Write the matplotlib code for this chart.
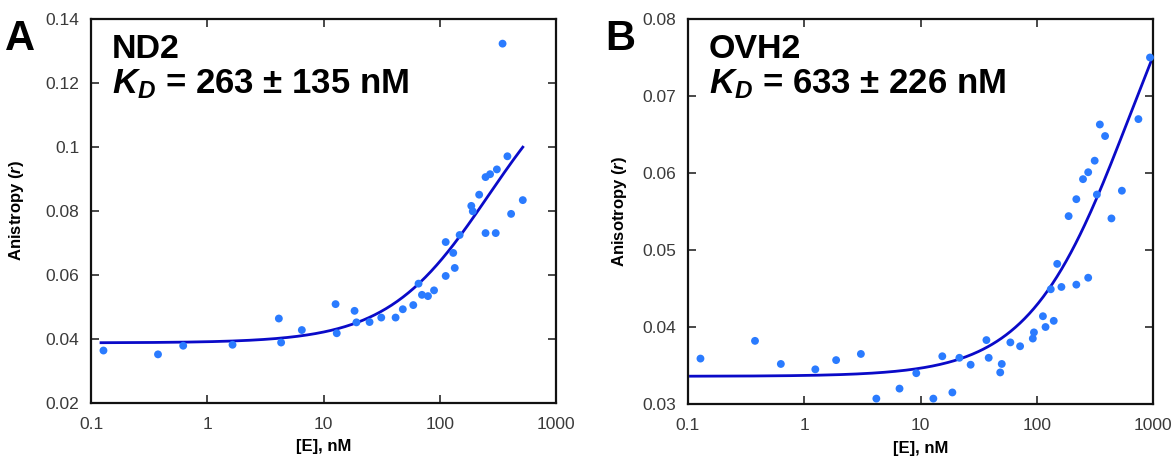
import numpy as np
import matplotlib
matplotlib.use("Agg")
import matplotlib.pyplot as plt

plt.rcParams["font.family"] = ["Liberation Sans", "DejaVu Sans"]
plt.rcParams["mathtext.fontset"] = "custom"
plt.rcParams["mathtext.it"] = "Liberation Sans:italic:bold"
plt.rcParams["mathtext.rm"] = "Liberation Sans:bold"
plt.rcParams["mathtext.bf"] = "Liberation Sans:bold"

# ---- ND2 titration ----
nd2_conc = [0.128, 0.377, 0.621, 1.65, 4.13, 4.32, 6.51, 12.7, 13.0, 18.5,
            19.2, 24.9, 31.4, 41.7, 48.1, 59.2, 65.7, 70.3, 79.2, 89.3,
            112.5, 112.5, 130.6, 134.6, 148.3, 186.8, 192.4, 218.3, 247.7, 271.0,
            247.7, 303.0, 310.0, 347.0, 382.0, 411.0, 518.0]
nd2_aniso = [0.0364, 0.0352, 0.0379, 0.0382, 0.0464, 0.0389, 0.0428, 0.0509, 0.0418, 0.0488,
             0.0452, 0.0453, 0.0467, 0.0467, 0.0493, 0.0506, 0.0573, 0.0538, 0.0534, 0.0552,
             0.0703, 0.0597, 0.0669, 0.0622, 0.0725, 0.0816, 0.0799, 0.0851, 0.0906, 0.0915,
             0.0731, 0.0731, 0.0930, 0.1323, 0.0971, 0.0791, 0.0834]
nd2_kd = 263
nd2_r0 = 0.0388
nd2_rmax = 0.131
nd2_fit_range = (0.122, 518)

# ---- OVH2 titration ----
ovh2_conc = [0.128, 0.377, 0.629, 1.245, 1.88, 3.07, 4.17, 6.6, 9.2, 12.9,
             15.4, 18.8, 21.6, 27.0, 36.9, 38.6, 48.5, 50.0, 59.3, 71.9,
             92.5, 94.6, 113, 119, 132, 140, 150, 163, 188, 219,
             219, 250, 277, 277, 315, 329, 349, 387, 439, 540,
             749, 942]
ovh2_aniso = [0.0359, 0.0382, 0.0352, 0.0345, 0.0357, 0.0365, 0.0307, 0.0320, 0.0340, 0.0307,
              0.0362, 0.0315, 0.0360, 0.0351, 0.0383, 0.0360, 0.0341, 0.0352, 0.0380, 0.0375,
              0.0385, 0.0393, 0.0414, 0.0400, 0.0449, 0.0408, 0.0482, 0.0452, 0.0544, 0.0566,
              0.0455, 0.0592, 0.0601, 0.0464, 0.0616, 0.0572, 0.0663, 0.0648, 0.0541, 0.0577,
              0.0670, 0.0750]
ovh2_kd = 633
ovh2_r0 = 0.0336
ovh2_rmax = 0.1014
ovh2_fit_range = (0.105, 960)

x_ticks = [0.1, 1, 10, 100, 1000]
x_tick_labels = ["0.1", "1", "10", "100", "1000"]

POINT_COLOR = "#2a7bff"
LINE_COLOR = "#0a0ac8"
TICK_COLOR = "#3a3a3a"

fig = plt.figure(figsize=(11.76, 4.62), dpi=100)


def binding_curve(x, r0, rmax, kd):
    return r0 + (rmax - r0) * x / (kd + x)


def draw_panel(rect, conc, aniso, kd, r0, rmax, fit_range, ylim, yticks,
               ylabel, name, kd_err, letter, letter_x, ylabel_x):
    ax = fig.add_axes(rect)
    xs = np.logspace(np.log10(fit_range[0]), np.log10(fit_range[1]), 300)
    ax.plot(xs, binding_curve(xs, r0, rmax, kd), color=LINE_COLOR, lw=2.0, zorder=2)
    ax.scatter(conc, aniso, s=32, color=POINT_COLOR, edgecolors="none", zorder=3,
               clip_on=False)
    ax.set_xscale("log")
    ax.set_xlim(0.1, 1000)
    ax.set_ylim(*ylim)
    ax.set_xticks(x_ticks)
    ax.set_xticklabels(x_tick_labels)
    ax.xaxis.set_minor_locator(matplotlib.ticker.NullLocator())
    ax.set_yticks(yticks)
    ax.set_yticklabels([f"{t:g}" for t in yticks])
    ax.tick_params(axis="both", which="major", direction="in", length=6, width=1.3,
                   color=TICK_COLOR, labelcolor=TICK_COLOR, labelsize=12.5,
                   top=True, right=True)
    ax.tick_params(axis="x", pad=10)
    ax.tick_params(axis="y", pad=8.5)
    for sp in ax.spines.values():
        sp.set_linewidth(1.6)
        sp.set_color("#111111")
    ax.set_xlabel("[E], nM", fontsize=12, fontweight="bold")
    ax.xaxis.set_label_coords(0.5, -0.095)
    ax.set_ylabel(ylabel, fontsize=12, fontweight="bold")
    ax.yaxis.set_label_coords(ylabel_x, 0.5)
    ax.text(0.045, 0.898, name, transform=ax.transAxes, fontsize=24.5,
            fontweight="bold", va="baseline", ha="left")
    ax.text(0.045, 0.807, r"$K_D$" + f" = {kd} ± {kd_err} nM", transform=ax.transAxes,
            fontsize=25, fontweight="bold", va="baseline", ha="left")
    fig.text(letter_x, (462 - 50) / 462, letter, fontsize=30, fontweight="bold",
             va="baseline", ha="left")
    return ax


draw_panel([91 / 1176, 59 / 462, 465 / 1176, 384 / 462],
           nd2_conc, nd2_aniso, nd2_kd, nd2_r0, nd2_rmax, nd2_fit_range,
           (0.02, 0.14), [0.02, 0.04, 0.06, 0.08, 0.1, 0.12, 0.14],
           r"Anistropy ($r$)", "ND2", 135, "A", 5 / 1176, -0.14)

draw_panel([688 / 1176, 58 / 462, 465 / 1176, 385 / 462],
           ovh2_conc, ovh2_aniso, ovh2_kd, ovh2_r0, ovh2_rmax, ovh2_fit_range,
           (0.03, 0.08), [0.03, 0.04, 0.05, 0.06, 0.07, 0.08],
           r"Anisotropy ($r$)", "OVH2", 226, "B", 605 / 1176, -0.127)

fig.savefig("out.png", dpi=100)
